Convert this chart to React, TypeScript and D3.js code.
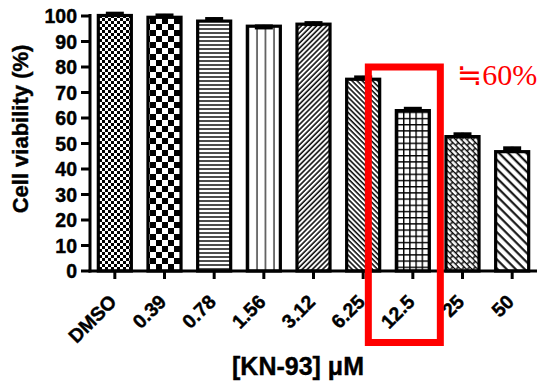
import React from 'react';
import * as d3 from 'd3';

// data
const categories = ['DMSO', '0.39', '0.78', '1.56', '3.12', '6.25', '12.5', '25', '50'];
const viability = [100.2, 99.5, 98, 96, 96.8, 75.2, 62.9, 52.7, 46.8];
const sem = [1.3, 1.3, 1.4, 0.5, 1.0, 1.3, 1.3, 1.5, 1.9];
const yTicks = [0, 10, 20, 30, 40, 50, 60, 70, 80, 90, 100];
const patternIds = ['chkS', 'chkL', 'hLines', 'vLines', 'diagF', 'diagB', 'grid', 'brick', 'diagW'];
const highlight = '12.5';
const highlightLabel = '\u225260%';

const W = 544;
const H = 383;
const margin = { top: 16, right: 7, bottom: 112, left: 90 };
const font = "'Liberation Sans', Arial, sans-serif";

const App: React.FC = () => {
  const x = d3.scaleBand<string>()
    .domain(categories)
    .range([margin.left, W - margin.right])
    .paddingInner(0.335)
    .paddingOuter(0.1675);

  const y = d3.scaleLinear()
    .domain([0, 100])
    .range([H - margin.bottom, margin.top]);

  const y0 = y(0);
  const bw = x.bandwidth();
  const hx = (x(highlight) || 0) + bw / 2;

  return (
    <svg width={W} height={H} style={{ position: 'absolute', left: 0, top: 0, background: '#fff' }}>
      <defs>
        <pattern id="chkS" width={6} height={6} patternUnits="userSpaceOnUse">
          <rect width={6} height={6} fill="#fff" />
          <rect width={3} height={3} fill="#000" />
          <rect x={3} y={3} width={3} height={3} fill="#000" />
        </pattern>
        <pattern id="chkL" width={12} height={12} patternUnits="userSpaceOnUse">
          <rect width={12} height={12} fill="#fff" />
          <rect width={6} height={6} fill="#000" />
          <rect x={6} y={6} width={6} height={6} fill="#000" />
        </pattern>
        <pattern id="hLines" width={8} height={4} patternUnits="userSpaceOnUse">
          <rect width={8} height={4} fill="#fff" />
          <line x1={0} x2={8} y1={1} y2={1} stroke="#000" strokeWidth={1.4} />
        </pattern>
        <pattern id="vLines" width={8.5} height={8} patternUnits="userSpaceOnUse">
          <rect width={8.5} height={8} fill="#fff" />
          <line x1={2} x2={2} y1={0} y2={8} stroke="#333" strokeWidth={1.4} />
        </pattern>
        <pattern id="diagF" width={3.6} height={8} patternUnits="userSpaceOnUse" patternTransform="rotate(45)">
          <rect width={3.6} height={8} fill="#fff" />
          <line x1={1} x2={1} y1={0} y2={8} stroke="#000" strokeWidth={1.5} />
        </pattern>
        <pattern id="diagB" width={3.6} height={8} patternUnits="userSpaceOnUse" patternTransform="rotate(-45)">
          <rect width={3.6} height={8} fill="#fff" />
          <line x1={1} x2={1} y1={0} y2={8} stroke="#000" strokeWidth={1.5} />
        </pattern>
        <pattern id="grid" width={6.2} height={6.2} patternUnits="userSpaceOnUse">
          <rect width={6.2} height={6.2} fill="#fff" />
          <line x1={0} x2={6.2} y1={0.7} y2={0.7} stroke="#000" strokeWidth={1.4} />
          <line x1={0.7} x2={0.7} y1={0} y2={6.2} stroke="#000" strokeWidth={1.4} />
        </pattern>
        <pattern id="brick" width={8} height={8} patternUnits="userSpaceOnUse" patternTransform="rotate(45)">
          <rect width={8} height={8} fill="#fff" />
          <line x1={0} x2={8} y1={0.6} y2={0.6} stroke="#000" strokeWidth={1.4} />
          <line x1={0} x2={8} y1={4.6} y2={4.6} stroke="#000" strokeWidth={1.4} />
          <line x1={1} x2={1} y1={0.6} y2={4.6} stroke="#000" strokeWidth={1.4} />
          <line x1={5} x2={5} y1={4.6} y2={8.6} stroke="#000" strokeWidth={1.4} />
        </pattern>
        <pattern id="diagW" width={6.4} height={8} patternUnits="userSpaceOnUse" patternTransform="rotate(-45)">
          <rect width={6.4} height={8} fill="#fff" />
          <line x1={1.5} x2={1.5} y1={0} y2={8} stroke="#000" strokeWidth={2} />
        </pattern>
      </defs>

      {/* bars */}
      {categories.map((c, i) => (
        <rect
          key={c}
          x={x(c)}
          y={y(viability[i])}
          width={bw}
          height={y0 - y(viability[i])}
          fill={`url(#${patternIds[i]})`}
          stroke="#000"
          strokeWidth={3.2}
        />
      ))}

      {/* error bars, upper only */}
      {categories.map((c, i) => {
        const cx = (x(c) || 0) + bw / 2;
        const top = y(viability[i] + sem[i]);
        return (
          <g key={`e-${c}`} stroke="#000">
            <line x1={cx} x2={cx} y1={y(viability[i])} y2={top} strokeWidth={3} />
            <line x1={cx - 9} x2={cx + 9} y1={top + 2} y2={top + 2} strokeWidth={5} />
          </g>
        );
      })}

      {/* y axis */}
      <line x1={margin.left} x2={margin.left} y1={y(100) - 2} y2={y0 + 1.5} stroke="#000" strokeWidth={3} />
      {yTicks.map(t => (
        <g key={`yt-${t}`}>
          <line x1={margin.left - 9} x2={margin.left} y1={y(t)} y2={y(t)} stroke="#000" strokeWidth={3} />
          <text
            x={margin.left - 13}
            y={y(t)}
            dy="0.36em"
            textAnchor="end"
            fontFamily={font}
            fontWeight="bold"
            fontSize={19.5}
            stroke="#000"
            strokeWidth={0.4}
          >
            {t}
          </text>
        </g>
      ))}

      {/* x axis */}
      <line x1={margin.left - 1.5} x2={W - margin.right} y1={y0} y2={y0} stroke="#000" strokeWidth={3} />
      {categories.map(c => {
        const cx = (x(c) || 0) + bw / 2;
        return (
          <g key={`xt-${c}`}>
            <line x1={cx} x2={cx} y1={y0} y2={y0 + 8} stroke="#000" strokeWidth={3} />
            <text
              transform={`translate(${cx + 3},${y0 + 32}) rotate(-45)`}
              textAnchor="end"
              fontFamily={font}
              fontWeight="bold"
              fontSize={19.5}
              stroke="#000"
              strokeWidth={0.4}
            >
              {c}
            </text>
          </g>
        );
      })}

      {/* axis titles */}
      <text
        transform={`translate(28,129) rotate(-90)`}
        textAnchor="middle"
        fontFamily={font}
        fontWeight="bold"
        fontSize={22}
        stroke="#000"
        strokeWidth={0.4}
      >
        Cell viability (%)
      </text>
      <text
        x={298}
        y={375}
        textAnchor="middle"
        fontFamily={font}
        fontWeight="bold"
        fontSize={25}
        stroke="#000"
        strokeWidth={0.4}
      >
        [KN-93] μM
      </text>

      {/* highlight box and note */}
      <rect
        x={hx - 44.5}
        y={y(80)}
        width={72}
        height={y0 + 71.5 - y(80)}
        fill="none"
        stroke="#ff0000"
        strokeWidth={7}
      />
      <text
        x={457}
        y={85}
        fill="#ff0000"
        fontFamily="'DejaVu Serif', 'Liberation Serif', serif"
        fontSize={30}
      >
        <tspan fontFamily="'DejaVu Sans', serif">{highlightLabel.slice(0, 1)}</tspan>
        <tspan fontFamily="'Liberation Serif', 'Times New Roman', serif">{highlightLabel.slice(1)}</tspan>
      </text>
    </svg>
  );
};

export default App;
